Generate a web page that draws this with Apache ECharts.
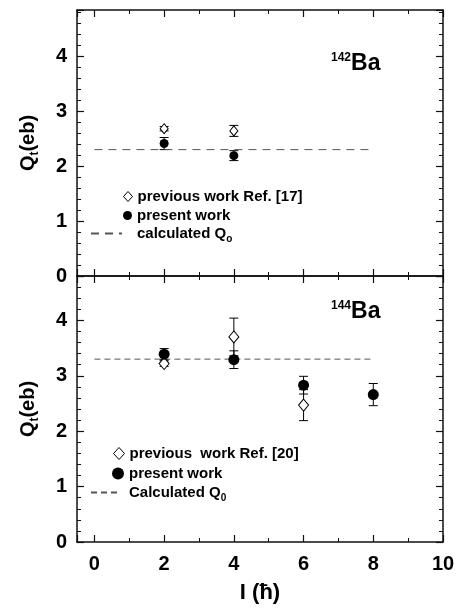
<!DOCTYPE html>
<html>
<head>
<meta charset="utf-8">
<script src="https://cdn.jsdelivr.net/npm/echarts@6/dist/echarts.min.js"></script>
<style>
  html, body { margin: 0; padding: 0; background: #fff; }
  #chart { width: 465px; height: 608px; }
</style>
</head>
<body>
<div id="chart"></div>
<script>
// 142Ba panel
const ba142PrevSpin = [2, 4];
const ba142PrevQt = [2.68, 2.64];
const ba142PrevErr = [0.04, 0.1];
const ba142PresSpin = [2, 4];
const ba142PresQt = [2.41, 2.19];
const ba142PresErr = [0.11, 0.09];
const ba142CalcSpin = [0, 8];
const ba142CalcQ0 = [2.3, 2.3];

// 144Ba panel
const ba144PrevSpin = [2, 4, 6];
const ba144PrevQt = [3.22, 3.7, 2.47];
const ba144PrevErr = [0.05, 0.34, 0.28];
const ba144PresSpin = [2, 4, 6, 8];
const ba144PresQt = [3.39, 3.29, 2.83, 2.66];
const ba144PresErr = [0.1, 0.16, 0.16, 0.2];
const ba144CalcSpin = [0, 8];
const ba144CalcQ0 = [3.3, 3.3];

const FONT = "'Liberation Sans', Arial, sans-serif";
const INK = "#111";

function zip(xs, ys, es) {
  return xs.map((x, i) => (es ? [x, ys[i], es[i]] : [x, ys[i]]));
}

// rich text pieces, s = subscript
const richText = {
  n: { fontSize: 15, fontWeight: "bold", fontFamily: FONT, color: "#000", lineHeight: 22 },
  n1: { fontSize: 15, fontWeight: "bold", fontFamily: FONT, color: "#000", lineHeight: 22, padding: [0, 0, 0, 10] },
  n2: { fontSize: 15, fontWeight: "bold", fontFamily: FONT, color: "#000", lineHeight: 22, padding: [0, 0, 0, 6] },
  s: { fontSize: 10, fontWeight: "bold", fontFamily: FONT, color: "#000", lineHeight: 10, verticalAlign: "bottom" },
};

const legendTexts = {
  "previous work Ref. [17]": "{n|previous work Ref. [17]}",
  "present work": "{n|present work}",
  "calculated Qo": "{n1|calculated Q}{s|o}",
  "previous  work Ref. [20]": "{n|previous  work Ref. [20]}",
  "Calculated Q0": "{n2|Calculated Q}{s|0}",
};

function legendItem(name, left, cy, iw, ih, lineOnly) {
  return {
    data: [name],
    left: left,
    top: cy - 11,
    padding: 0,
    itemWidth: iw,
    itemHeight: ih,
    selectedMode: false,
    formatter: (nm) => legendTexts[nm],
    textStyle: { rich: richText },
    // line legends: keep only the dashes, hide the marker
    itemStyle: lineOnly ? { opacity: 0 } : { borderWidth: 1 },
  };
}

function xAx(grid, pos, labels, name) {
  return {
    type: "value",
    gridIndex: grid,
    position: pos,
    min: -0.5,
    max: 10,
    splitNumber: 5,
    name: name || "",
    nameLocation: "middle",
    nameGap: 40,
    nameTextStyle: { fontSize: 22, fontWeight: "bold", fontFamily: FONT, color: "#000" },
    axisLine: { show: true, onZero: false, lineStyle: { color: INK, width: 1.5 } },
    axisTick: { show: true, inside: true, length: 7, lineStyle: { color: INK, width: 1.2 } },
    minorTick: { show: true, splitNumber: 2, length: 4, lineStyle: { color: INK, width: 1 } },
    splitLine: { show: false },
    axisLabel: {
      show: labels, showMinLabel: false, margin: 12,
      fontSize: 20, fontWeight: "bold", fontFamily: FONT, color: "#000",
    },
  };
}

function yAx(grid, pos, max, labels) {
  return {
    type: "value",
    gridIndex: grid,
    position: pos,
    min: 0,
    max: max,
    splitNumber: 5,
    name: labels ? "{n|Q}{s|t}{n|(eb)}" : "",
    nameLocation: "middle",
    nameRotate: 90,
    nameGap: 36,
    nameTextStyle: {
      rich: {
        n: { fontSize: 20, fontWeight: "bold", fontFamily: FONT, color: "#000", lineHeight: 26 },
        s: { fontSize: 12, fontWeight: "bold", fontFamily: FONT, color: "#000", lineHeight: 12, verticalAlign: "bottom" },
      },
    },
    axisLine: { show: true, onZero: false, lineStyle: { color: INK, width: 1.5 } },
    axisTick: { show: true, inside: true, length: 7, lineStyle: { color: INK, width: 1.2 } },
    minorTick: { show: true, splitNumber: 5, length: 4, lineStyle: { color: INK, width: 1 } },
    splitLine: { show: false },
    axisLabel: {
      show: labels, showMaxLabel: false, margin: 10,
      fontSize: 20, fontWeight: "bold", fontFamily: FONT, color: "#000",
    },
  };
}

function errBars(params, api) {
  const x = api.value(0), y = api.value(1), e = api.value(2);
  const hi = api.coord([x, y + e]);
  const lo = api.coord([x, y - e]);
  const w = 4.5;
  const st = { stroke: "#000", lineWidth: 1 };
  return {
    type: "group",
    children: [
      { type: "line", shape: { x1: hi[0], y1: hi[1], x2: lo[0], y2: lo[1] }, style: st },
      { type: "line", shape: { x1: hi[0] - w, y1: hi[1], x2: hi[0] + w, y2: hi[1] }, style: st },
      { type: "line", shape: { x1: lo[0] - w, y1: lo[1], x2: lo[0] + w, y2: lo[1] }, style: st },
    ],
  };
}

function errSeries(grid, data) {
  return {
    type: "custom", xAxisIndex: grid * 2, yAxisIndex: grid * 2,
    renderItem: errBars, encode: { x: 0, y: 1 }, data: data, z: 3, silent: true,
  };
}

const openDiamond = { color: "#fff", borderColor: "#000", borderWidth: 1, opacity: 1 };
const blackDot = { color: "#000", opacity: 1 };
const isoRich = {
  sup: { fontSize: 12, fontWeight: "bold", fontFamily: FONT, color: "#000", verticalAlign: "top", lineHeight: 12 },
  big: { fontSize: 23, fontWeight: "bold", fontFamily: FONT, color: "#000", lineHeight: 24 },
};

const chart = echarts.init(document.getElementById("chart"));
const option = {
  backgroundColor: "#fff",
  animation: false,
  grid: [
    { left: 77, right: 22, top: 10, height: 266 },
    { left: 77, right: 22, top: 276, height: 266 },
  ],
  title: [
    { text: "{sup|142}{big|Ba}", left: 331, top: 52, padding: 0, textStyle: { rich: isoRich } },
    { text: "{sup|144}{big|Ba}", left: 331, top: 300, padding: 0, textStyle: { rich: isoRich } },
  ],
  legend: [
    legendItem("previous work Ref. [17]", 123, 200, 9, 10),
    legendItem("present work", 123, 219, 9, 9),
    legendItem("calculated Qo", 90, 237, 31, 10, true),
    legendItem("previous  work Ref. [20]", 113, 457, 11, 12),
    legendItem("present work", 112, 477, 12, 12),
    legendItem("Calculated Q0", 90, 496, 27, 10, true),
  ],
  xAxis: [
    xAx(0, "bottom", false),
    xAx(0, "top", false),
    xAx(1, "bottom", true, "I (\u0127)"),
    xAx(1, "top", false),
  ],
  yAxis: [
    yAx(0, "left", 4.84, true),
    yAx(0, "right", 4.84, false),
    yAx(1, "left", 4.8, true),
    yAx(1, "right", 4.8, false),
  ],
  series: [
    {
      name: "calculated Qo", type: "line", xAxisIndex: 0, yAxisIndex: 0,
      data: zip(ba142CalcSpin, ba142CalcQ0), symbol: "none", silent: true,
      lineStyle: { color: "#555", width: 1, type: [8, 6] },
    },
    errSeries(0, zip(ba142PrevSpin, ba142PrevQt, ba142PrevErr)),
    errSeries(0, zip(ba142PresSpin, ba142PresQt, ba142PresErr)),
    {
      name: "previous work Ref. [17]", type: "scatter", xAxisIndex: 0, yAxisIndex: 0,
      data: zip(ba142PrevSpin, ba142PrevQt), symbol: "diamond", symbolSize: [8, 10],
      itemStyle: openDiamond, z: 4,
    },
    {
      name: "present work", type: "scatter", xAxisIndex: 0, yAxisIndex: 0,
      data: zip(ba142PresSpin, ba142PresQt), symbol: "circle", symbolSize: 9,
      itemStyle: blackDot, z: 5,
    },
    {
      name: "Calculated Q0", type: "line", xAxisIndex: 2, yAxisIndex: 2,
      data: zip(ba144CalcSpin, ba144CalcQ0), symbol: "none", silent: true,
      lineStyle: { color: "#555", width: 1, type: [6, 4] },
    },
    errSeries(1, zip(ba144PrevSpin, ba144PrevQt, ba144PrevErr)),
    errSeries(1, zip(ba144PresSpin, ba144PresQt, ba144PresErr)),
    {
      name: "previous  work Ref. [20]", type: "scatter", xAxisIndex: 2, yAxisIndex: 2,
      data: zip(ba144PrevSpin, ba144PrevQt), symbol: "diamond", symbolSize: [10, 12],
      itemStyle: openDiamond, z: 4,
    },
    {
      name: "present work", type: "scatter", xAxisIndex: 2, yAxisIndex: 2,
      data: zip(ba144PresSpin, ba144PresQt), symbol: "circle", symbolSize: 11,
      itemStyle: blackDot, z: 5,
    },
  ],
};
chart.setOption(option);
</script>
</body>
</html>
